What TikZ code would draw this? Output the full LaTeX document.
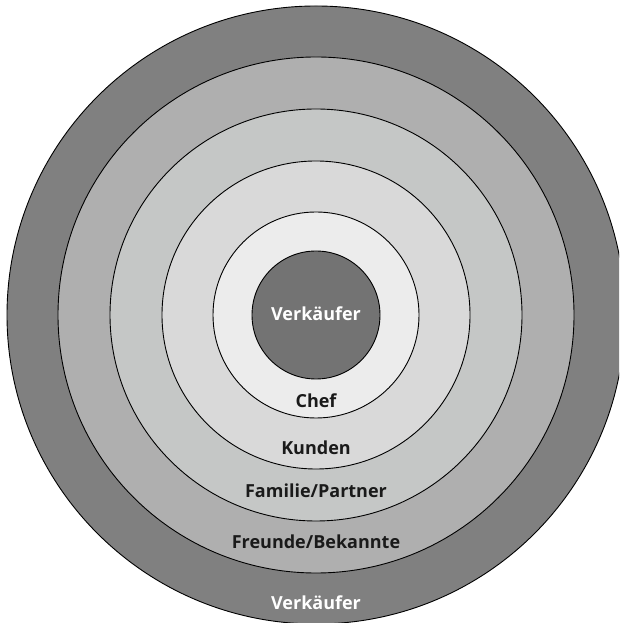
\documentclass[tikz,border=0pt]{standalone}
\usepackage{fontspec}
\setmainfont{Open Sans}
\definecolor{ringsix}{HTML}{808080}
\definecolor{ringfive}{HTML}{AFAFAF}
\definecolor{ringfour}{HTML}{C5C7C6}
\definecolor{ringthree}{HTML}{D9D9D9}
\definecolor{ringtwo}{HTML}{ECECEC}
\definecolor{ringone}{HTML}{737373}
\definecolor{labeldark}{HTML}{1A1A1A}
\tikzset{
	ring/.style={draw=black, line width=0.9pt},
	ringlabel/.style={anchor=base, text=labeldark, font=\bfseries\fontsize{18}{18}\selectfont},
	ringlabelwhite/.style={ringlabel, text=white}
}

\begin{document}
\begin{tikzpicture}[x=1pt, y=1pt]
		%%%%% START %%%%%
		
		\useasboundingbox (0, 0) rectangle (619, 623);
		\clip (0, 0) rectangle (619, 623);
		\coordinate (mid) at (316, 308);
		
		\draw[ring, fill=ringsix] (mid) circle (309);
		\draw[ring, fill=ringfive] (mid) circle (258);
		\draw[ring, fill=ringfour] (mid) circle (206);
		\draw[ring, fill=ringthree] (mid) circle (154);
		\draw[ring, fill=ringtwo] (mid) circle (103);
		\draw[ring, fill=ringone] (mid) circle (64);
		
		\node[ringlabelwhite] (self) at (316, 302) {Verkäufer};
		\node[ringlabel] (chef) at (316, 215) {Chef};
		\node[ringlabel] (kunden) at (316, 168) {Kunden};
		\node[ringlabel] (familie) at (316, 125) {Familie/Partner};
		\node[ringlabel] (freunde) at (316, 74) {Freunde/Bekannte};
		\node[ringlabelwhite] (kollegen) at (316, 13.5) {Verkäufer};
		
		%%%%% END %%%%%
	\end{tikzpicture}
\end{document}
